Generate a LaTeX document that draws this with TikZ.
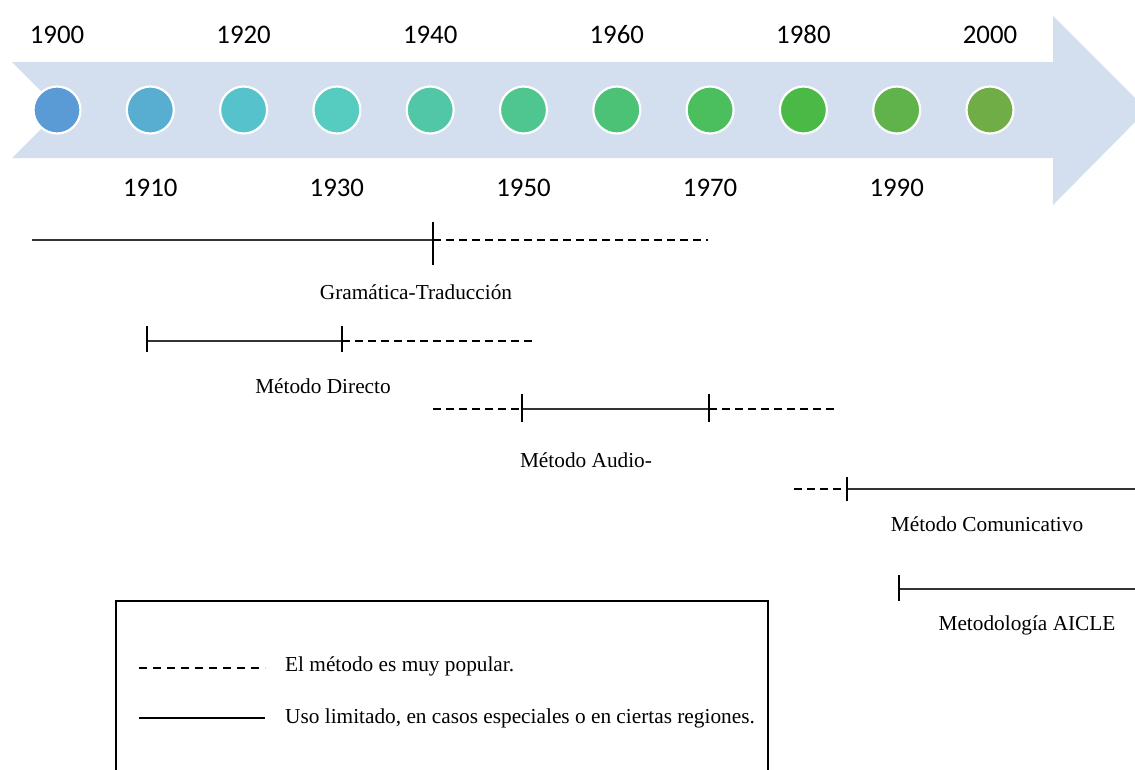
\documentclass[tikz,border=0pt]{standalone}
\usepackage{fontspec}
\setmainfont{Liberation Serif}
\newfontfamily\yearfont{Carlito}
\definecolor{arrowblue}{HTML}{D3DEEF}
\definecolor{d0}{HTML}{5B9BD5}
\definecolor{d1}{HTML}{57AED0}
\definecolor{d2}{HTML}{55C2CC}
\definecolor{d3}{HTML}{56CBC0}
\definecolor{d4}{HTML}{52C7A8}
\definecolor{d5}{HTML}{4FC58F}
\definecolor{d6}{HTML}{4CC277}
\definecolor{d7}{HTML}{4BBE5E}
\definecolor{d8}{HTML}{4AB946}
\definecolor{d9}{HTML}{5FB34A}
\definecolor{d10}{HTML}{70AD47}
\definecolor{lineink}{HTML}{333333}
\begin{document}
\begin{tikzpicture}[x=1pt,y=-1pt,
  year/.style={font=\yearfont\fontsize{26.8}{30}\selectfont, text=black, inner sep=0, anchor=base},
  dot/.style={circle, draw=white, line width=2.2pt, minimum size=47pt, inner sep=0},
  solidl/.style={line width=1.3pt, draw=lineink},
  dashl/.style={line width=1.5pt, draw=black, dash pattern=on 8pt off 5pt},
  tickmark/.style={line width=1.3pt, draw=black},
  lbl/.style={font=\fontsize{21.3}{24}\selectfont, inner sep=0},
  legendbox/.style={line width=2pt, draw=black}]
\useasboundingbox (0,0) rectangle (1135,769);
\clip (0,0) rectangle (1135,769);
% big arrow
\fill[arrowblue] (12,62) -- (1053,62) -- (1053,16) -- (1147,110) -- (1053,205) -- (1053,158) -- (12,158) -- (60,110) -- cycle;
% dots and years
\foreach \i in {0,...,10} {
  \pgfmathsetmacro{\xx}{57+93.3*\i}
  \pgfmathtruncatemacro{\yr}{1900+10*\i}
  \node[dot, fill=d\i] (c\i) at (\xx,110) {};
  \pgfmathtruncatemacro{\odd}{mod(\i,2)}
  \ifnum\odd=0
    \node[year] (y\i) at (\xx,43) {\yr};
  \else
    \node[year] (y\i) at (\xx,196) {\yr};
  \fi
}
% Gramatica-Traduccion
\coordinate (g0) at (32,240);
\coordinate (g1) at (433,240);
\coordinate (g2) at (708,240);
\draw[solidl] (g0) -- (g1);
\draw[dashl] (g1) -- (g2);
\draw[tickmark] ([yshift=18pt]g1) -- ([yshift=-25pt]g1);
\node[lbl] (gt) at (416,292) {Gramática-Traducción};
% Metodo Directo
\coordinate (m0) at (147,341);
\coordinate (m1) at (342,341);
\coordinate (m2) at (532,341);
\draw[solidl] (m0) -- (m1);
\draw[dashl] (m1) -- (m2);
\draw[tickmark] ([yshift=15pt]m0) -- ([yshift=-11pt]m0);
\draw[tickmark] ([yshift=15pt]m1) -- ([yshift=-11pt]m1);
\node[lbl] (md) at (323,386) {Método Directo};
% Metodo Audio-
\coordinate (a0) at (433,409);
\coordinate (a1) at (522,409);
\coordinate (a2) at (709,409);
\coordinate (a3) at (836,409);
\draw[dashl] (a0) -- (a1);
\draw[solidl] (a1) -- (a2);
\draw[dashl] (a2) -- (a3);
\draw[tickmark] ([yshift=15pt]a1) -- ([yshift=-13pt]a1);
\draw[tickmark] ([yshift=15pt]a2) -- ([yshift=-13pt]a2);
\node[lbl] (ma) at (586,460) {Método Audio-};
% Metodo Comunicativo
\coordinate (k0) at (794,489);
\coordinate (k1) at (847,489);
\coordinate (k2) at (1140,489);
\draw[dashl] (k0) -- (k1);
\draw[solidl] (k1) -- (k2);
\draw[tickmark] ([yshift=12pt]k1) -- ([yshift=-12pt]k1);
\node[lbl] (mc) at (987,524) {Método Comunicativo};
% Metodologia AICLE
\coordinate (l0) at (899,589);
\coordinate (l1) at (1140,589);
\draw[solidl] (l0) -- (l1);
\draw[tickmark] ([yshift=14pt]l0) -- ([yshift=-12pt]l0);
\node[lbl] (ml) at (1027,625) {Metodología AICLE};
% legend
\draw[legendbox] (116,780) -- (116,601) -- (768,601) -- (768,780);
\coordinate (e0) at (139,668);
\coordinate (e1) at (265,668);
\coordinate (f0) at (139,718);
\coordinate (f1) at (265,718);
\draw[dashl, dash pattern=on 8pt off 6pt] (e0) -- (e1);
\draw[solidl, draw=black] (f0) -- (f1);
\node[lbl, anchor=west] (t1) at (285,666) {El método es muy popular.};
\node[lbl, anchor=west] (t2) at (285,718) {Uso limitado, en casos especiales o en ciertas regiones.};
\end{tikzpicture}
\end{document}
